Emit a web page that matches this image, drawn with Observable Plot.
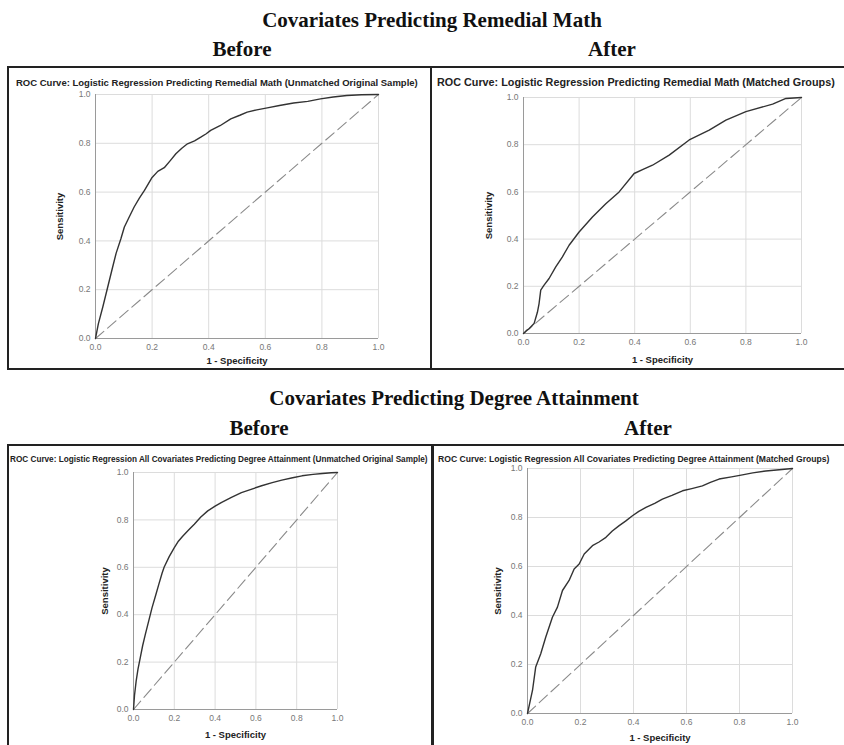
<!DOCTYPE html>
<html>
<head>
<meta charset="utf-8">
<script src="https://cdn.jsdelivr.net/npm/d3@7"></script>
<script src="https://cdn.jsdelivr.net/npm/@observablehq/plot@0.6"></script>
<style>
  body { margin:0; background:#fff; }
  #page { position:relative; width:844px; height:745px; overflow:hidden; background:#fff; }
  .h { position:absolute; font-family:"Liberation Serif","Times New Roman",serif; font-weight:bold; font-size:21px; color:#111; transform:translate(-50%,-50%); white-space:nowrap; }
  .box { position:absolute; border:2px solid #222; box-sizing:border-box; }
  .pt { position:absolute; font-family:"Liberation Sans",Arial,sans-serif; font-weight:bold; white-space:nowrap; color:#222; transform:translateY(-50%); }
  .plot { position:absolute; }
  .plot svg { overflow:visible; }
  g[aria-label="x-axis label"], g[aria-label="y-axis label"] { fill:#222; font-weight:bold; font-size:9.5px; }
  g[aria-label="x-axis tick label"], g[aria-label="y-axis tick label"] { fill:#777; }
</style>
</head>
<body>
<div id="page"></div>
<script>
// ---------- data ----------
const ticks = [0, 0.2, 0.4, 0.6, 0.8, 1.0];
const diagonal = [0, 1];

const sectionTitles = ["Covariates Predicting Remedial Math", "Covariates Predicting Degree Attainment"];
const columnTitles = ["Before", "After"];
const panelTitles = [
  "ROC Curve: Logistic Regression Predicting Remedial Math (Unmatched Original Sample)",
  "ROC Curve: Logistic Regression Predicting Remedial Math (Matched Groups)",
  "ROC Curve: Logistic Regression All Covariates Predicting Degree Attainment (Unmatched Original Sample)",
  "ROC Curve: Logistic Regression All Covariates Predicting Degree Attainment (Matched Groups)"
];
const xLabel = "1 - Specificity";
const yLabel = "Sensitivity";

// Remedial Math, before matching
const remBeforeFPR = [0, 0.01, 0.026, 0.043, 0.06, 0.073, 0.09, 0.102, 0.12, 0.137, 0.155, 0.173, 0.2, 0.22, 0.243, 0.265, 0.284, 0.305, 0.325, 0.35, 0.372, 0.39, 0.407, 0.44, 0.478, 0.51, 0.536, 0.57, 0.607, 0.65, 0.70, 0.75, 0.795, 0.84, 0.888, 0.94, 1];
const remBeforeTPR = [0, 0.06, 0.13, 0.21, 0.29, 0.35, 0.41, 0.457, 0.50, 0.54, 0.575, 0.607, 0.66, 0.685, 0.70, 0.73, 0.757, 0.78, 0.798, 0.81, 0.825, 0.838, 0.853, 0.872, 0.90, 0.915, 0.928, 0.937, 0.945, 0.955, 0.965, 0.972, 0.982, 0.99, 0.996, 0.999, 1];

// Remedial Math, after matching
const remAfterFPR = [0, 0.01, 0.02, 0.038, 0.05, 0.056, 0.062, 0.074, 0.092, 0.116, 0.14, 0.164, 0.20, 0.248, 0.296, 0.344, 0.398, 0.43, 0.464, 0.524, 0.596, 0.668, 0.728, 0.80, 0.896, 0.944, 1];
const remAfterTPR = [0, 0.012, 0.02, 0.042, 0.09, 0.127, 0.184, 0.205, 0.233, 0.282, 0.325, 0.374, 0.43, 0.494, 0.55, 0.60, 0.678, 0.695, 0.713, 0.756, 0.82, 0.862, 0.904, 0.94, 0.972, 0.996, 1];

// Degree Attainment, before matching
const degBeforeFPR = [0, 0.005, 0.013, 0.022, 0.033, 0.045, 0.058, 0.075, 0.091, 0.108, 0.124, 0.14, 0.15, 0.175, 0.198, 0.22, 0.24, 0.27, 0.298, 0.33, 0.364, 0.4, 0.43, 0.48, 0.529, 0.58, 0.628, 0.68, 0.727, 0.78, 0.826, 0.88, 0.926, 0.97, 1];
const degBeforeTPR = [0, 0.06, 0.12, 0.17, 0.218, 0.27, 0.317, 0.375, 0.43, 0.48, 0.528, 0.575, 0.60, 0.645, 0.68, 0.71, 0.73, 0.757, 0.782, 0.812, 0.838, 0.858, 0.873, 0.895, 0.915, 0.93, 0.944, 0.957, 0.968, 0.978, 0.986, 0.992, 0.996, 0.999, 1];

// Degree Attainment, after matching
const degAfterFPR = [0, 0.008, 0.019, 0.031, 0.05, 0.069, 0.094, 0.113, 0.132, 0.157, 0.176, 0.195, 0.214, 0.245, 0.27, 0.296, 0.32, 0.346, 0.37, 0.396, 0.42, 0.447, 0.48, 0.509, 0.545, 0.585, 0.62, 0.66, 0.69, 0.723, 0.77, 0.811, 0.85, 0.899, 0.95, 1];
const degAfterTPR = [0, 0.04, 0.095, 0.19, 0.244, 0.312, 0.393, 0.434, 0.502, 0.543, 0.59, 0.61, 0.651, 0.685, 0.70, 0.719, 0.745, 0.767, 0.785, 0.807, 0.825, 0.841, 0.858, 0.875, 0.89, 0.909, 0.918, 0.929, 0.943, 0.957, 0.966, 0.974, 0.982, 0.99, 0.995, 1];

// ---------- layout ----------
const page = document.getElementById("page");
function addDiv(cls, text, style) {
  const d = document.createElement("div");
  d.className = cls;
  if (text) d.textContent = text;
  Object.assign(d.style, style);
  page.appendChild(d);
  return d;
}

// boxes
addDiv("box", "", {left:"7px", top:"66px", width:"425px", height:"304px"});
addDiv("box", "", {left:"430px", top:"66px", width:"430px", height:"304px"});
addDiv("box", "", {left:"7px", top:"444px", width:"427px", height:"320px"});
addDiv("box", "", {left:"431px", top:"444px", width:"430px", height:"320px"});

// headings
addDiv("h", sectionTitles[0], {left:"432px", top:"20px"});
addDiv("h", columnTitles[0], {left:"242px", top:"49px"});
addDiv("h", columnTitles[1], {left:"612px", top:"49px"});
addDiv("h", sectionTitles[1], {left:"454px", top:"398px"});
addDiv("h", columnTitles[0], {left:"259px", top:"428px"});
addDiv("h", columnTitles[1], {left:"648px", top:"428px"});

// panel titles
addDiv("pt", panelTitles[0], {left:"16px", top:"82px", fontSize:"9.5px"});
addDiv("pt", panelTitles[1], {left:"437px", top:"82px", fontSize:"10.8px"});
addDiv("pt", panelTitles[2], {left:"10px", top:"459px", fontSize:"8.2px"});
addDiv("pt", panelTitles[3], {left:"438px", top:"459px", fontSize:"8.6px"});

function roc(fpr, tpr, cfg) {
  const data = fpr.map((x, i) => ({x, y: tpr[i]}));
  const diag = diagonal.map(v => ({x: v, y: v}));
  const plot = Plot.plot({
    width: cfg.width, height: cfg.height,
    marginLeft: cfg.ml, marginTop: cfg.mt, marginRight: cfg.mr, marginBottom: cfg.mb,
    x: {domain: [0, 1]},
    y: {domain: [0, 1]},
    style: {fontFamily: "'Liberation Sans', Arial, sans-serif", fontSize: "8.5px", color: "#777", background: "transparent", overflow: "visible"},
    marks: [
      Plot.gridX(ticks, {stroke: "#dcdcdc", strokeOpacity: 1}),
      Plot.gridY(ticks, {stroke: "#dcdcdc", strokeOpacity: 1}),
      Plot.ruleX([0], {stroke: "#9a9a9a"}),
      Plot.ruleY([0], {stroke: "#9a9a9a"}),
      Plot.axisX(ticks, {tickSize: 0, tickPadding: 5, tickFormat: d => d.toFixed(1), label: xLabel, labelAnchor: "center", labelArrow: "none", labelOffset: cfg.lx}),
      Plot.axisY(ticks, {tickSize: 0, tickPadding: 5, tickFormat: d => d.toFixed(1), label: yLabel, labelAnchor: "center", labelArrow: "none", labelOffset: cfg.ly}),
      Plot.line(diag, {x: "x", y: "y", stroke: "#8a8a8a", strokeWidth: 1.1, strokeDasharray: "11,5"}),
      Plot.line(data, {x: "x", y: "y", stroke: "#333", strokeWidth: 1.4})
    ]
  });
  const wrap = document.createElement("div");
  wrap.className = "plot";
  wrap.style.left = cfg.left + "px";
  wrap.style.top = cfg.top + "px";
  wrap.appendChild(plot);
  page.appendChild(wrap);
}

roc(remBeforeFPR, remBeforeTPR, {left:30, top:88, width:370, height:280, ml:65, mt:6, mr:22, mb:30, lx:25, ly:39.5});
roc(remAfterFPR, remAfterTPR, {left:455, top:88, width:366, height:277, ml:68, mt:9, mr:20, mb:32, lx:29.5, ly:38.5});
roc(degBeforeFPR, degBeforeTPR, {left:80, top:466, width:277, height:275, ml:53, mt:6, mr:20, mb:32, lx:28.5, ly:32.5});
roc(degAfterFPR, degAfterTPR, {left:460, top:462, width:352, height:283, ml:67, mt:6, mr:20, mb:32, lx:27, ly:33.5});
</script>
</body>
</html>
